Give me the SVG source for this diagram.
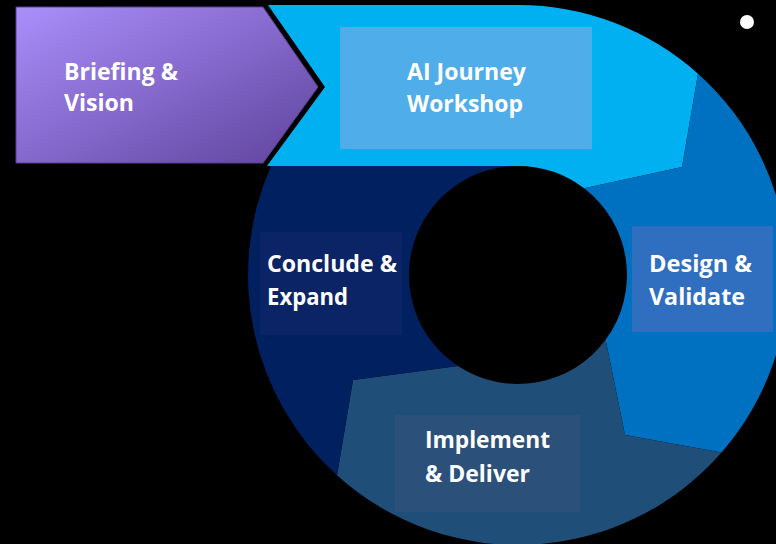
<svg xmlns="http://www.w3.org/2000/svg" width="776" height="544" viewBox="0 0 776 544">
  <defs>
    <linearGradient id="purp" x1="0" y1="0" x2="1" y2="1">
      <stop offset="0" stop-color="#AA8EFB"/>
      <stop offset="1" stop-color="#5F439C"/>
    </linearGradient>
    <style>
      .lbl { font-family: "Open Sans", "Liberation Sans", sans-serif; font-weight: bold; font-size: 24px; fill: #FFFFFF; }
    </style>
  </defs>
  <rect x="0" y="0" width="776" height="544" fill="#000000"/>
  <g id="connectors"></g>

  <g id="workshop">
    <path d="M 268,5 L 518,5 A 270 270 0 0 1 698,73.7 L 682,167 L 584.1,188.3 A 109 109 0 0 0 518,166 L 267,166 L 325,87 Z" fill="#00B0F0"/>
    <rect x="340" y="27" width="252" height="122" fill="#4FADE9"/>
    <text class="lbl" x="407" y="80" textLength="119" lengthAdjust="spacingAndGlyphs">AI Journey</text>
    <text class="lbl" x="407" y="112" textLength="116" lengthAdjust="spacingAndGlyphs">Workshop</text>
  </g>

  <g id="design">
    <path d="M 721.5,452.5 L 625,435 L 605.6,339.8 A 109 109 0 0 0 584.1,188.3 L 682,167 L 698,73.7 A 270 270 0 0 1 721.5,452.5 Z" fill="#0070C0"/>
    <rect x="632" y="226" width="141" height="106" fill="#306EBF"/>
    <text class="lbl" x="649" y="272" textLength="103" lengthAdjust="spacingAndGlyphs">Design &amp;</text>
    <text class="lbl" x="649" y="305" textLength="96" lengthAdjust="spacingAndGlyphs">Validate</text>
  </g>

  <g id="implement">
    <path d="M 337,475.3 L 353,380 L 458,366 A 109 109 0 0 0 605.6,339.8 L 625,435 L 721.5,452.5 A 270 270 0 0 1 337,475.3 Z" fill="#1F4E79"/>
    <rect x="395" y="415" width="185" height="97" fill="#2B5079"/>
    <text class="lbl" x="425" y="448" textLength="125" lengthAdjust="spacingAndGlyphs">Implement</text>
    <text class="lbl" x="425" y="482" textLength="105" lengthAdjust="spacingAndGlyphs">&amp; Deliver</text>
  </g>

  <g id="conclude">
    <path d="M 271,166 L 518,166 A 109 109 0 0 0 458,366 L 353,380 L 337,475.3 A 270 270 0 0 1 271,166 Z" fill="#002060"/>
    <rect x="260" y="232" width="142" height="103" fill="#0A2465"/>
    <text class="lbl" x="267" y="272" textLength="130" lengthAdjust="spacingAndGlyphs">Conclude &amp;</text>
    <text class="lbl" x="267" y="305" textLength="81" lengthAdjust="spacingAndGlyphs">Expand</text>
  </g>

  <g id="briefing">
    <path d="M 16,7 L 263,7 L 318,87 L 263,163 L 16,163 Z" fill="url(#purp)" stroke="#5A3E96" stroke-width="1"/>
    <text class="lbl" x="64" y="80" textLength="114" lengthAdjust="spacingAndGlyphs">Briefing &amp;</text>
    <text class="lbl" x="64" y="111" textLength="70" lengthAdjust="spacingAndGlyphs">Vision</text>
  </g>

  <circle id="dot" cx="747" cy="22" r="7" fill="#FFFFFF"/>
</svg>
